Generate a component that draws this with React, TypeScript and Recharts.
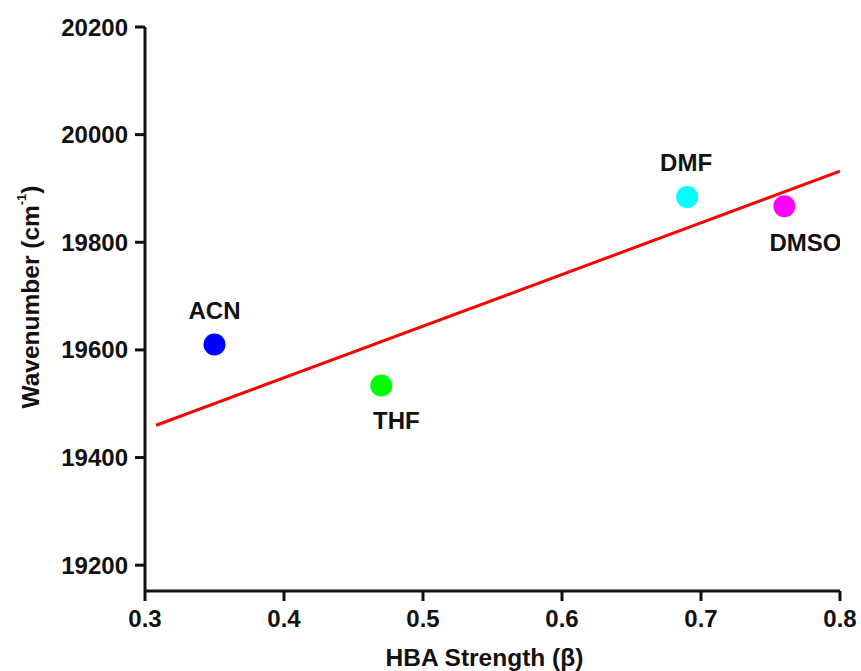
import { ScatterChart, Scatter, XAxis, YAxis, Label } from 'recharts'

const solvents = ['ACN', 'THF', 'DMF', 'DMSO']
const hbaStrength = [0.35, 0.47, 0.69, 0.76]
const wavenumber = [19610, 19534, 19884, 19867]
const fitX = [0.308, 0.8]
const fitY = [19460, 19932]
const xTicks = [0.3, 0.4, 0.5, 0.6, 0.7, 0.8]
const yTicks = [19200, 19400, 19600, 19800, 20000, 20200]

const pointColors = ['#0000ff', '#00ff00', '#00ffff', '#ff00ff']
// label offset from point centre (dx, dy)
const labelOffsets = [
  [0, -34],
  [15, 35],
  [-1, -35],
  [21, 36]
]

const font = '"Liberation Sans", Arial, sans-serif'
const ink = '#111'

const fitData = fitX.map((x, i) => ({ x, y: fitY[i] }))

const makeShape = (idx: number) => (props: any) => {
  const { cx, cy } = props
  const [dx, dy] = labelOffsets[idx]
  return (
    <g>
      <circle cx={cx} cy={cy} r={11} fill={pointColors[idx]} />
      <text
        x={cx + dx}
        y={cy + dy}
        textAnchor="middle"
        dominantBaseline="central"
        fontFamily={font}
        fontWeight="bold"
        fontSize={24}
        fill={ink}
      >
        {solvents[idx]}
      </text>
    </g>
  )
}

const YTitle = (props: any) => {
  const vb = props.viewBox
  const cx = vb.x + 30
  const cy = vb.y + vb.height / 2 - 12
  return (
    <text
      x={cx}
      y={cy}
      transform={`rotate(-90, ${cx}, ${cy})`}
      textAnchor="middle"
      dominantBaseline="central"
      fontFamily={font}
      fontWeight="bold"
      fontSize={24.5}
      fill={ink}
    >
      Wavenumber (cm
      <tspan dy={-9} fontSize={13}>-1</tspan>
      <tspan dy={9}>)</tspan>
    </text>
  )
}

const XTitle = (props: any) => {
  const vb = props.viewBox
  return (
    <text
      x={vb.x + vb.width / 2 - 8}
      y={vb.y + 66}
      textAnchor="middle"
      dominantBaseline="central"
      fontFamily={font}
      fontWeight="bold"
      fontSize={24.5}
      fill={ink}
    >
      HBA Strength (β)
    </text>
  )
}

const tickStyle = { fontFamily: font, fontWeight: 'bold', fontSize: 24, fill: ink }
const axisLine = { stroke: ink, strokeWidth: 3 }

export default function App() {
  return (
    <div style={{ position: 'absolute', left: 0, top: 0, width: 861, height: 671 }}>
      <ScatterChart
        width={861}
        height={671}
        margin={{ top: 27, right: 21, bottom: 0, left: 0 }}
      >
        <XAxis
          type="number"
          dataKey="x"
          domain={[0.3, 0.8]}
          ticks={xTicks}
          tickFormatter={(v: number) => v.toFixed(1)}
          height={80}
          tickSize={10}
          tickMargin={9}
          tick={tickStyle}
          axisLine={axisLine}
          tickLine={axisLine}
          allowDataOverflow
        >
          <Label content={XTitle} />
        </XAxis>
        <YAxis
          type="number"
          dataKey="y"
          domain={[19152, 20200]}
          ticks={yTicks}
          width={145}
          tickSize={10}
          tickMargin={7}
          tick={tickStyle}
          axisLine={axisLine}
          tickLine={axisLine}
          allowDataOverflow
        >
          <Label content={YTitle} />
        </YAxis>
        {solvents.map((name, i) => (
          <Scatter
            key={name}
            name={name}
            data={[{ x: hbaStrength[i], y: wavenumber[i] }]}
            shape={makeShape(i)}
            isAnimationActive={false}
          />
        ))}
        <Scatter
          data={fitData}
          line={{ stroke: '#ff0000', strokeWidth: 3 }}
          lineType="joint"
          shape={() => null}
          isAnimationActive={false}
        />
      </ScatterChart>
    </div>
  )
}
